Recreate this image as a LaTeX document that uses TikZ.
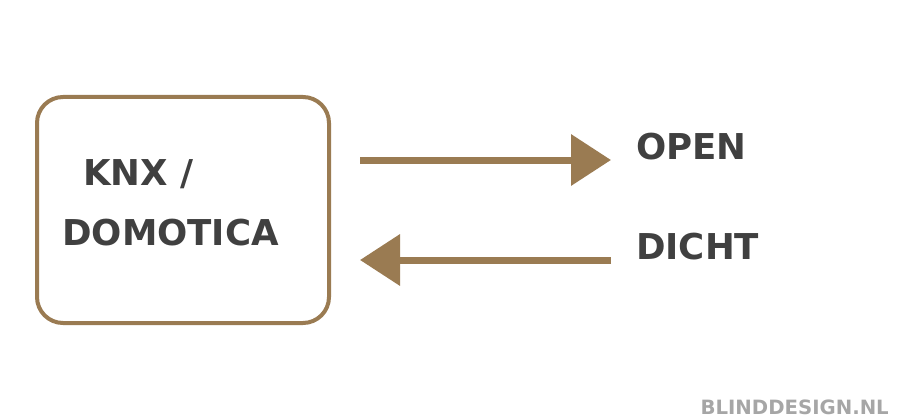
\documentclass[tikz,border=0pt]{standalone}
\usepackage{fontspec}
\setmainfont{DejaVu Sans}
\usetikzlibrary{arrows.meta}
\definecolor{brons}{HTML}{9A7B52}
\definecolor{donker}{HTML}{404040}
\definecolor{grijs}{HTML}{A6A6A6}
\tikzset{
	label/.style={anchor=base west,inner sep=0,text=donker,font=\fontsize{35.6}{42}\selectfont\bfseries},
	pijl/.style={brons,line width=7,-{Triangle[length=40,width=50]}}
}
\begin{document}
\begin{tikzpicture}[x=1pt,y=-1pt]
		\useasboundingbox (0,0) rectangle (900,420);
		\draw[brons,line width=4,rounded corners=26] (37,97) rectangle (329,323);
		\node[label] (knx) at (83,185) {KNX /};
		\node[label] (domotica) at (62,245) {DOMOTICA};
		\node[label] (open) at (636,159) {OPEN};
		\node[label] (dicht) at (636,259) {DICHT};
		\coordinate (a1) at (360,160);
		\coordinate (b1) at (611,160);
		\coordinate (a2) at (611,260);
		\coordinate (b2) at (360,260);
		\draw[pijl] (a1) -- (b1);
		\draw[pijl] (a2) -- (b2);
		\node[anchor=base east,inner sep=0,text=grijs,font=\fontsize{19.7}{24}\selectfont\bfseries] (merk) at (889,414) {BLINDDESIGN.NL};
\end{tikzpicture}
\end{document}
